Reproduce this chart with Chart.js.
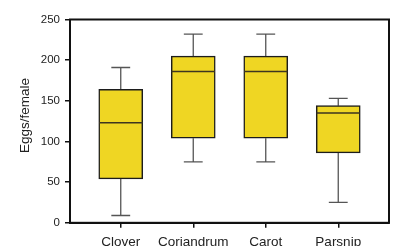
<!DOCTYPE html>
<html lang="en">
<head>
  <meta charset="UTF-8">
  <title>Eggs per female</title>
  <script src="https://cdn.jsdelivr.net/npm/chart.js"></script>
  <style>
    html, body {
      margin: 0;
      padding: 0;
      background: #fff;
      overflow: hidden;
    }
    canvas {
      display: block;
    }
  </style>
</head>
<body>
  <canvas id="boxChart" width="393" height="257"></canvas>

  <script>
    // data
    const plants = ['Clover', 'Coriandrum', 'Carot', 'Parsnip'];
    const mins = [9, 75, 75, 25];
    const q1s = [54, 104, 104, 86];
    const medians = [123, 186, 186, 135];
    const q3s = [164, 205, 205, 144];
    const maxs = [191, 232, 232, 153];
    const yTicks = [0, 50, 100, 150, 200, 250];

    const FONT = "'Liberation Sans', Arial, sans-serif";
    const CAP = 0.13;   // half width of whisker caps (x units)
    const HALF = 0.3;   // half width of the box (x units)

    // whisker segments, separated by null points
    const whiskers = [];
    plants.forEach((p, i) => {
      const x = i + 1;
      whiskers.push({x: x, y: q3s[i]}, {x: x, y: maxs[i]}, {x: x, y: null});
      whiskers.push({x: x - CAP, y: maxs[i]}, {x: x + CAP, y: maxs[i]}, {x: x, y: null});
      whiskers.push({x: x, y: q1s[i]}, {x: x, y: mins[i]}, {x: x, y: null});
      whiskers.push({x: x - CAP, y: mins[i]}, {x: x + CAP, y: mins[i]}, {x: x, y: null});
    });

    const medianLines = [];
    plants.forEach((p, i) => {
      const x = i + 1;
      medianLines.push({x: x - HALF, y: medians[i]}, {x: x + HALF, y: medians[i]}, {x: x, y: null});
    });

    const boxes = plants.map((p, i) => ({x: i + 1, y: [q1s[i], q3s[i]]}));

    // frame round the plot area
    const frame = {
      id: 'frame',
      afterDraw(chart) {
        const a = chart.chartArea;
        const ctx = chart.ctx;
        ctx.save();
        ctx.strokeStyle = '#111';
        ctx.lineWidth = 2;
        ctx.strokeRect(a.left, a.top, a.right - a.left, a.bottom - a.top);
        ctx.restore();
      }
    };

    new Chart(document.getElementById('boxChart'), {
      data: {
        datasets: [
          {
            type: 'line',
            data: medianLines,
            borderColor: '#3d3520',
            borderWidth: 1.5,
            pointRadius: 0,
            spanGaps: false,
            order: 0
          },
          {
            type: 'bar',
            data: boxes,
            backgroundColor: '#efd623',
            borderColor: '#1c1c1c',
            borderWidth: 1.5,
            borderSkipped: false,
            barThickness: 44,
            order: 1
          },
          {
            type: 'line',
            data: whiskers,
            borderColor: '#555',
            borderWidth: 1.3,
            pointRadius: 0,
            spanGaps: false,
            order: 2
          }
        ]
      },
      options: {
        responsive: false,
        animation: false,
        layout: {
          padding: {top: 19.5, right: 4, bottom: 0, left: 0}
        },
        plugins: {
          legend: {display: false},
          tooltip: {enabled: false}
        },
        scales: {
          x: {
            type: 'linear',
            offset: false,
            min: 0.3,
            max: 4.7,
            afterBuildTicks: (scale) => {
              scale.ticks = plants.map((p, i) => ({value: i + 1}));
            },
            ticks: {
              callback: (v) => plants[v - 1],
              color: '#222',
              font: {family: FONT, size: 13.5},
              padding: 6.5,
              maxRotation: 0,
              autoSkip: false
            },
            grid: {
              offset: false,
              drawOnChartArea: false,
              drawTicks: true,
              tickLength: 5,
              color: '#111',
              lineWidth: 1.5
            },
            border: {display: true, color: '#111', width: 2}
          },
          y: {
            min: 0,
            max: 250,
            afterBuildTicks: (scale) => {
              scale.ticks = yTicks.map(v => ({value: v}));
            },
            afterFit: (scale) => {
              scale.width = 70;
            },
            ticks: {
              color: '#222',
              font: {family: FONT, size: 11.5},
              padding: 5
            },
            grid: {
              drawOnChartArea: false,
              drawTicks: true,
              tickLength: 5,
              color: '#111',
              lineWidth: 1.5
            },
            border: {display: true, color: '#111', width: 2},
            title: {
              display: true,
              // leading spaces nudge the label a little up, as in the original
              text: '   Eggs/female',
              color: '#222',
              font: {family: FONT, size: 13.5},
              padding: {top: 17.5, bottom: 0}
            }
          }
        }
      },
      plugins: [frame]
    });
  </script>
</body>
</html>
